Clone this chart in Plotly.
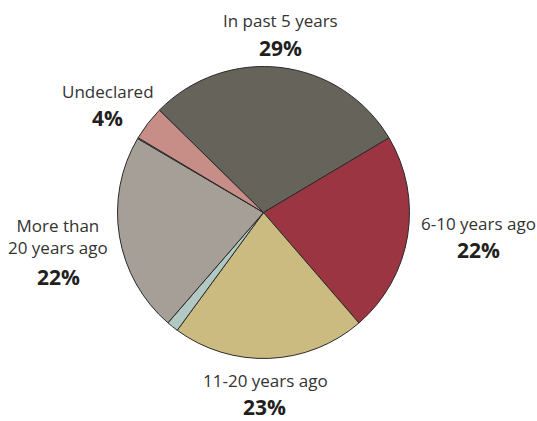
import plotly.graph_objects as go

W, H = 537, 421

# Slice data (clockwise from the top-left boundary)
categories = ["In past 5 years", "6-10 years ago", "11-20 years ago", "Other",
              "More than 20 years ago", "Other (small)", "Undeclared"]
values = [29.1, 22.2, 21.4, 1.3, 22.1, 0.1, 3.8]
colors = ["#66645A", "#9A3541", "#CBBB80", "#B2C8C2", "#A59F98", "#B2C8C2", "#C78D87"]

# Label texts
label_names = ["In past 5 years", "6-10 years ago", "11-20 years ago",
               "More than<br>20 years ago", "Undeclared"]
label_pcts = ["29%", "22%", "23%", "22%", "4%"]
# label anchor positions (pixels): name line center, pct line center
name_pos = [(280, 21), (478, 223), (265, 380), (58, 236.5), (108, 91)]
pct_pos = [(280, 48), (478, 250), (264, 407), (58, 277), (107, 118)]

cx, cy, r = 263.5, 212.5, 146

fig = go.Figure(go.Pie(
    labels=categories,
    values=values,
    sort=False,
    direction="clockwise",
    rotation=-45.5,
    marker=dict(colors=colors, line=dict(color="#2a2a2a", width=1)),
    textinfo="none",
    hoverinfo="label+percent",
    showlegend=False,
    domain=dict(x=[(cx - r) / W, (cx + r) / W], y=[(H - cy - r) / H, (H - cy + r) / H]),
))

annotations = []
for txt, (x, y) in zip(label_names, name_pos):
    annotations.append(dict(
        text=txt, x=x / W, y=1 - y / H, xref="paper", yref="paper",
        xanchor="center", yanchor="middle", showarrow=False,
        font=dict(family="Open Sans", size=17, color="#333333"),
        align="center",
    ))
for txt, (x, y) in zip(label_pcts, pct_pos):
    annotations.append(dict(
        text="<b>" + txt + "</b>", x=x / W, y=1 - y / H, xref="paper", yref="paper",
        xanchor="center", yanchor="middle", showarrow=False,
        font=dict(family="Open Sans", size=21, color="#231f20", weight=800),
    ))

fig.update_layout(
    width=W, height=H,
    margin=dict(l=0, r=0, t=0, b=0),
    paper_bgcolor="white", plot_bgcolor="white",
    annotations=annotations,
)

fig.write_html(
    "out.html",
    config={"displayModeBar": False},
    post_script="document.body.style.margin='0';document.body.style.overflow='hidden';",
)
